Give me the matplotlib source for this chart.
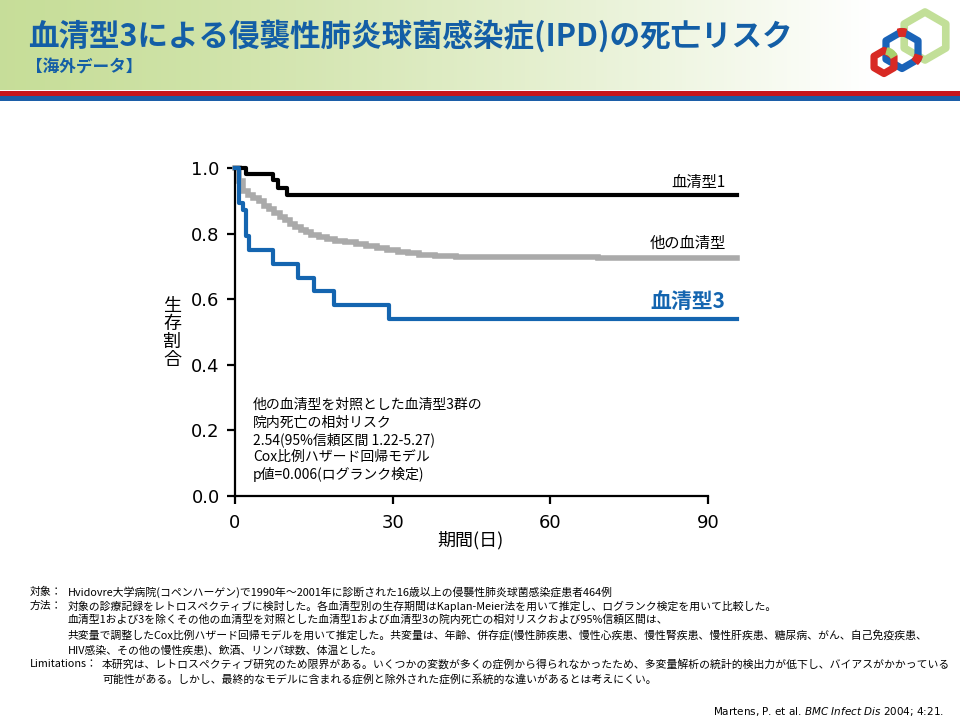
import numpy as np
import matplotlib
matplotlib.use("Agg")
from matplotlib import pyplot as plt
import matplotlib.patches as patches

plt.rcParams['font.family'] = ['Noto Sans CJK JP', 'DejaVu Sans']

# survival curves (days, survival proportion), step after each time
black_t = [0, 2.0, 7.3, 8.2, 9.9, 95.5]
black_s = [1.0, 0.981, 0.962, 0.940, 0.917, 0.917]

blue_t = [0, 0.7, 1.6, 2.0, 2.7, 7.3, 11.9, 15.0, 18.8, 29.3, 95.5]
blue_s = [1.0, 0.893, 0.872, 0.793, 0.750, 0.706, 0.666, 0.625, 0.581, 0.540, 0.540]

gray_t = [0, 0.8, 1.5, 2.5, 3.5, 4.5, 5.5, 6.5, 7.5, 8.5, 9.5, 10.5, 11.5, 12.5,
          13.5, 14.5, 16, 17.5, 19, 21, 23, 25, 27, 29, 31, 33, 35, 38, 42, 45, 69, 95.5]
gray_s = [1.0, 0.960, 0.930, 0.918, 0.908, 0.898, 0.885, 0.875, 0.862, 0.852, 0.840,
          0.830, 0.820, 0.811, 0.804, 0.797, 0.790, 0.783, 0.778, 0.773, 0.768, 0.762,
          0.756, 0.750, 0.745, 0.740, 0.736, 0.733, 0.730, 0.728, 0.725, 0.725]

xticks = [0, 30, 60, 90]
yticks = [0.0, 0.2, 0.4, 0.6, 0.8, 1.0]

title = "血清型3による侵襲性肺炎球菌感染症(IPD)の死亡リスク"
subtitle = "【海外データ】"
note_lines = ["他の血清型を対照とした血清型3群の",
              "院内死亡の相対リスク",
              "2.54(95%信頼区間 1.22-5.27)",
              "Cox比例ハザード回帰モデル",
              "p値=0.006(ログランク検定)"]

foot = [
    (30, "対象：", 68, "Hvidovre大学病院(コペンハーゲン)で1990年～2001年に診断された16歳以上の侵襲性肺炎球菌感染症患者464例"),
    (30, "方法：", 68, "対象の診療記録をレトロスペクティブに検討した。各血清型別の生存期間はKaplan-Meier法を用いて推定し、ログランク検定を用いて比較した。"),
    (None, "", 68, "血清型1および3を除くその他の血清型を対照とした血清型1および血清型3の院内死亡の相対リスクおよび95%信頼区間は、"),
    (None, "", 68, "共変量で調整したCox比例ハザード回帰モデルを用いて推定した。共変量は、年齢、併存症(慢性肺疾患、慢性心疾患、慢性腎疾患、慢性肝疾患、糖尿病、がん、自己免疫疾患、"),
    (None, "", 68, "HIV感染、その他の慢性疾患)、飲酒、リンパ球数、体温とした。"),
    (30, "Limitations：", 102, "本研究は、レトロスペクティブ研究のため限界がある。いくつかの変数が多くの症例から得られなかったため、多変量解析の統計的検出力が低下し、バイアスがかかっている"),
    (None, "", 102, "可能性がある。しかし、最終的なモデルに含まれる症例と除外された症例に系統的な違いがあるとは考えにくい。"),
]
foot_y = [592, 606, 620, 635, 650, 664, 679]

BLUE = '#1465b0'
TITLE_BLUE = '#135ea6'
LGREEN = '#a8d26c'
RED = '#d82a24'

fig = plt.figure(figsize=(9.6, 7.2), dpi=100)

# background / decoration layer in pixel coordinates
bg = fig.add_axes([0, 0, 1, 1])
bg.set_xlim(0, 960); bg.set_ylim(720, 0); bg.axis('off')

grad = np.linspace(0, 1, 256)
c0 = np.array([0.78, 0.87, 0.60]); c1 = np.array([1.0, 1.0, 1.0])
w = np.clip(grad * 1.1, 0, 1)[None, :, None] ** 1.3
img = c0 * (1 - w) + c1 * w
bg.imshow(img, extent=[0, 960, 90, 0], aspect='auto', zorder=0)
bg.add_patch(patches.Rectangle((0, 91), 960, 5, color='#c8161d', lw=0, zorder=1))
bg.add_patch(patches.Rectangle((0, 96), 960, 5, color='#1c5ea8', lw=0, zorder=1))

bg.text(28, 36, title, fontsize=22, fontweight='bold', color=TITLE_BLUE, va='center', ha='left')
bg.text(26, 68, subtitle, fontsize=12, fontweight='bold', color=TITLE_BLUE, va='center', ha='left')

# logo (y axis is inverted here, so angles are mirrored: 270 = top)
bg.add_patch(patches.RegularPolygon((925, 36), 6, radius=24, fill=False, ec=LGREEN,
                                    lw=5.5, alpha=0.7, joinstyle='round', zorder=2))
bg.add_patch(patches.RegularPolygon((902, 50), 6, radius=18.5, fill=False, ec='#1a63b8',
                                    lw=5.2, joinstyle='round', zorder=3))
bg.add_patch(patches.Wedge((902, 50), 21.3, 258, 282, width=7.5, color=RED, zorder=3.5))
bg.add_patch(patches.Wedge((902, 50), 21.3, 18, 42, width=7.5, color=RED, zorder=3.5))
bg.add_patch(patches.RegularPolygon((884, 62), 6, radius=11.5, fill=False, ec=RED,
                                    lw=5.2, joinstyle='round', zorder=4))
bg.add_patch(patches.Wedge((884, 62), 14.6, 285, 330, width=6.5, color=LGREEN, zorder=4.5))

# chart
ax = fig.add_axes([235/960, 1 - 496/720, 502/960, 328/720])
ax.plot(gray_t, gray_s, drawstyle='steps-post', color='#aaaaaa', lw=4.0, clip_on=False,
        solid_joinstyle='miter', zorder=2)
ax.plot(black_t, black_s, drawstyle='steps-post', color='black', lw=3.0, clip_on=False, zorder=3)
ax.plot(blue_t, blue_s, drawstyle='steps-post', color=BLUE, lw=3.0, clip_on=False, zorder=4)

ax.set_xlim(0, 95.5)
ax.set_ylim(0, 1.0)
ax.spines['top'].set_visible(False)
ax.spines['right'].set_visible(False)
ax.spines['bottom'].set_bounds(0, 90)
for s in ('left', 'bottom'):
    ax.spines[s].set_linewidth(1.6)
ax.set_xticks(xticks)
ax.set_yticks(yticks)
ax.set_xticklabels([str(v) for v in xticks], family='DejaVu Sans')
ax.set_yticklabels(['%.1f' % v for v in yticks], family='DejaVu Sans')
ax.tick_params(direction='out', length=6, width=1.6, labelsize=13, pad=5, colors='black')
ax.tick_params(axis='x', pad=7)

ax.text(93.3, 0.917 + 0.013, "血清型1", fontsize=11, ha='right', va='bottom')
ax.text(93.3, 0.725 + 0.018, "他の血清型", fontsize=11, ha='right', va='bottom')
ax.text(93.3, 0.540 + 0.02, "血清型3", fontsize=15, fontweight='bold', color=BLUE, ha='right', va='bottom')

for i, line in enumerate(note_lines):
    ax.text(3.4, 0.277 - i * 0.053, line, fontsize=10, ha='left', va='center')

bg.text(172, 333, "\n".join("生存割合"), fontsize=13, ha='center', va='center', linespacing=1.0)
bg.text(470, 540, "期間(日)", fontsize=13, ha='center', va='center')

for (lx, lab, bx, body), y in zip(foot, foot_y):
    if lx is not None:
        bg.text(lx, y, lab, fontsize=7.8, ha='left', va='center')
    bg.text(bx, y, body, fontsize=7.8, ha='left', va='center')

bg.text(944, 711, "Martens, P. et al. $\\it{BMC\\ Infect\\ Dis}$ 2004; 4:21.", fontsize=7.5,
        ha='right', va='center', family='DejaVu Sans')

fig.savefig("out.png", dpi=100)
